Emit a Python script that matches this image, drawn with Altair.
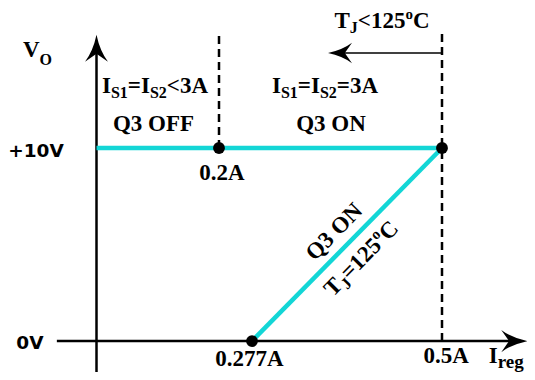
import altair as alt
import pandas as pd

# ---------------- data ----------------
# x: regulator current I_reg (A), drawn on a schematic (piecewise) axis
x_breaks = [-0.25, 0.0, 0.2, 0.277, 0.5, 0.6]
# y: output voltage Vo (V)
y_domain = [-1.6, 17.25]

vo_high = 10
i_knee = 0.2          # end of Q3 OFF region
i_start = 0.277       # Vo = 0 when T_J = 125 C
i_max = 0.5           # Vo = 10 V limit

flat_x = [0.0, i_max]
flat_y = [vo_high, vo_high]
slope_x = [i_start, i_max]
slope_y = [0, vo_high]

dots_x = [i_knee, i_max, i_start]
dots_y = [vo_high, vo_high, 0]

dash_x = [i_knee, i_max]
dash_y1 = [vo_high, 0]
dash_y2 = [16, 16]

yaxis_x = [0, 0]
yaxis_y = [-1.6, 15.16]
xaxis_x = [-0.112, 0.585]
xaxis_y = [0, 0]

tj_arrow_x = [0.3803, 0.5]
tj_arrow_y = 14.92

# ---------------- style ----------------
CYAN = "#13D6D6"
SERIF = "Liberation Serif"
SANS = "DejaVu Sans"
MAIN = 23
SUB = 16

xs = alt.Scale(domain=x_breaks, range=[0, 88.5, 211, 244, 434, 519], nice=False, zero=False)
ys = alt.Scale(domain=y_domain, nice=False, zero=False)

def X(f="x"):
    return alt.X(f"{f}:Q", scale=xs, axis=None)

def Y(f="y"):
    return alt.Y(f"{f}:Q", scale=ys, axis=None)

# Times (Liberation Serif) bold advance widths per 1000 em
TW = {" ": 250, ".": 250, "<": 570, "=": 570, "A": 722, "C": 722, "F": 611, "I": 389,
      "J": 500, "N": 722, "O": 778, "Q": 778, "S": 556, "T": 667, "V": 722,
      "e": 444, "g": 500, "r": 444, "o": 500}
for d in "0123456789":
    TW[d] = 500

def tw(text, size):
    return sum(TW.get(c, 500) for c in text) * size / 1000.0

def rich(x, y, segs, align="center", angle=0, base_dy=0):
    """segs: list of (text, size, baseline shift)"""
    total = sum(tw(t, s) for t, s, _ in segs)
    off = -total / 2 if align == "center" else 0
    df = pd.DataFrame({"x": [x], "y": [y]})
    out = []
    for t, s, sh in segs:
        out.append(
            alt.Chart(df).mark_text(
                text=t, font=SERIF, fontWeight="bold", fontSize=s, color="black",
                align="left", baseline="alphabetic", dx=off, dy=base_dy + sh, angle=angle
            ).encode(x=X(), y=Y())
        )
        off += tw(t, s)
    return out

ARROW = "M0,-1 Q0.25,0.2 0.85,1 L0,0.4 L-0.85,1 Q-0.25,0.2 0,-1 Z"

layers = []

# axes
ax_df = pd.DataFrame({"x": yaxis_x + xaxis_x, "y": yaxis_y + xaxis_y, "seg": ["v", "v", "h", "h"]})
layers.append(alt.Chart(ax_df).mark_line(color="black", strokeWidth=2.5, strokeCap="butt")
              .encode(x=X(), y=Y(), detail="seg:N"))

# dashed guides
dash_df = pd.DataFrame({"x": dash_x, "y": dash_y1, "y2": dash_y2})
layers.append(alt.Chart(dash_df).mark_rule(color="black", strokeWidth=2.5, strokeDash=[8, 5])
              .encode(x=X(), y=Y(), y2="y2:Q"))

# T_J arrow shaft
tj_df = pd.DataFrame({"x": [tj_arrow_x[0]], "x2": [tj_arrow_x[1]], "y": [tj_arrow_y]})
layers.append(alt.Chart(tj_df).mark_rule(color="black", strokeWidth=1.5)
              .encode(x=X(), x2="x2:Q", y=Y()))

# cyan characteristic
cy_df = pd.DataFrame({"x": flat_x + slope_x, "y": flat_y + slope_y, "seg": ["a", "a", "b", "b"]})
layers.append(alt.Chart(cy_df).mark_line(color=CYAN, strokeWidth=4.5, strokeCap="butt")
              .encode(x=X(), y=Y(), detail="seg:N"))

# dots
dot_df = pd.DataFrame({"x": dots_x, "y": dots_y})
layers.append(alt.Chart(dot_df).mark_point(filled=True, color="black", opacity=1, size=140)
              .encode(x=X(), y=Y()))

# arrowheads
for ax_, ay_, ang, sz in [(yaxis_x[0], yaxis_y[1], 0, 729),
                          (xaxis_x[1], xaxis_y[1], 90, 676),
                          (tj_arrow_x[0], tj_arrow_y, 270, 576)]:
    layers.append(alt.Chart(pd.DataFrame({"x": [ax_], "y": [ay_]}))
                  .mark_point(shape=ARROW, filled=True, color="black", opacity=1, size=sz, angle=ang)
                  .encode(x=X(), y=Y()))

# sans labels on the y axis
ylab_df = pd.DataFrame({"x": [-0.171, -0.188], "y": [9.53, -0.41], "t": ["+10V", "0V"]})
layers.append(alt.Chart(ylab_df).mark_text(font=SANS, fontWeight="bold", fontSize=18.5,
                                            align="center", baseline="alphabetic", color="black")
              .encode(x=X(), y=Y(), text="t:N"))

# simple serif labels
lab_df = pd.DataFrame({
    "x": [0.093, 0.3697, 0.207, 0.2712, 0.5048],
    "y": [10.88, 10.88, 8.34, -1.30, -1.14],
    "t": ["Q3 OFF", "Q3 ON", "0.2A", "0.277A", "0.5A"],
})
layers.append(alt.Chart(lab_df).mark_text(font=SERIF, fontWeight="bold", fontSize=MAIN,
                                           align="center", baseline="alphabetic", color="black")
              .encode(x=X(), y=Y(), text="t:N"))

# rich labels
layers += rich(-0.2076, 14.72, [("V", MAIN, 0), ("O", SUB, 8)], align="left")
layers += rich(0.555, -1.14, [("I", MAIN, 0), ("reg", 19, 5)], align="left")
layers += rich(0.0955, 12.85, [("I", MAIN, 0), ("S1", SUB, 5), ("=I", MAIN, 0), ("S2", SUB, 5), ("<3A", MAIN, 0)])
layers += rich(0.3627, 12.85, [("I", MAIN, 0), ("S1", SUB, 5), ("=I", MAIN, 0), ("S2", SUB, 5), ("=3A", MAIN, 0)])
layers += rich(0.4296, 16.21, [("T", MAIN, 0), ("J", SUB, 5), ("<125", MAIN, 0), ("o", 15, -9), ("C", MAIN, 0)])

# labels along the sloped line
ROT = 314.5
layers += rich(0.3885, 5.0, [("Q3 ON", MAIN, 0)], angle=ROT, base_dy=-11)
layers += rich(0.3885, 5.0, [("T", MAIN, 0), ("J", SUB, 5), ("=125", MAIN, 0), ("o", 15, -9), ("C", MAIN, 0)],
               angle=ROT, base_dy=27)

chart = alt.layer(*layers).properties(
    width=519, height=364,
    autosize=alt.AutoSizeParams(type="none"),
    padding=0,
    background="white",
).configure_view(stroke=None)

chart.save("out.html", embed_options={"renderer": "svg", "actions": False})
